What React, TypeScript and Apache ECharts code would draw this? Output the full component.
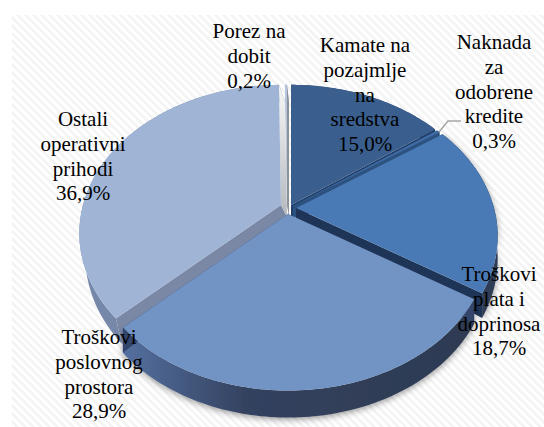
import React, { useEffect, useRef } from "react";
import * as echarts from "echarts";

const categories = [
  "Kamate na\npozajmlje\nna\nsredstva",
  "Naknada\nza\nodobrene\nkredite",
  "Troškovi\nplata i\ndoprinosa",
  "Troškovi\nposlovnog\nprostora",
  "Ostali\noperativni\nprihodi",
  "Porez na\ndobit",
];
const values = [15.0, 0.3, 18.7, 28.9, 36.9, 0.2];

const topColors = ["#3a5f8e", "#3f6ca6", "#4a7ab5", "#7294c5", "#a0b5d6", "#b4c3de"];
const rimColors: any[] = [
  "#2a4468",
  "#2a4468",
  "#2f3c55",
  { type: "linear", x: 0, y: 0, x2: 1, y2: 0, colorStops: [{ offset: 0, color: "#5570a0" }, { offset: 0.35, color: "#33425f" }, { offset: 1, color: "#2d3a52" }] },
  "#7688a9",
  "#c5c9cf",
];
const startWall = ["#22406a", "#2c5280", "#1f3557", "#33456a", "#7a87a5", "#c5c9cf"];
const endWall: any[] = [
  "#22406a",
  "#2c5280",
  "#1f3557",
  "#33456a",
  { type: "linear", x: 0, y: 0, x2: 0, y2: 1, colorStops: [{ offset: 0, color: "#f4f4f4" }, { offset: 0.15, color: "#eeeeee" }, { offset: 1, color: "#b4b8bd" }] },
  "#8d9198",
];
const apex = [[291, 205], [293, 206], [296, 208], [288, 214], [281, 205], [287, 205]];
const bottomShift = [0, 0, 0, 0, 6, 2];
const drawOrder = [0, 1, 5, 4, 2, 3];
const labelPos = [[365, 33], [494, 30], [499, 262], [99, 325], [83, 107], [249, 19]];
const total = values.reduce((a, b) => a + b, 0);

const K = 0.19, A = 143, B = 198;
function rim(theta: number) {
  const u = Math.sin(theta), v = Math.cos(theta), w = 1 + K * v;
  return { x: (B * u) / w, y: (-A * v) / w, d: 22 - 5 * v };
}
function renderSlice(params: any, api: any) {
  const i = params.dataIndex;
  const val = api.value(0);
  let before = 0;
  for (let j = 0; j < i; j++) before += values[j];
  const t0 = (before / total) * Math.PI * 2;
  const t1 = ((before + val) / total) * Math.PI * 2;
  const [ax, ay] = apex[i];
  const sh = bottomShift[i];
  const z = drawOrder.indexOf(i) * 10;
  const topPts: number[][] = [];
  const botPts: number[][] = [];
  const n = Math.max(2, Math.ceil((t1 - t0) / 0.02));
  for (let s = 0; s <= n; s++) {
    const p = rim(t0 + ((t1 - t0) * s) / n);
    topPts.push([ax + p.x, ay + p.y]);
    botPts.push([ax + p.x + sh, ay + p.y + p.d]);
  }
  const aBot = [ax + sh, ay + 12];
  const shadow = i === 2 || i === 3 ? { shadowBlur: 6, shadowColor: "rgba(0,0,0,0.4)", shadowOffsetY: 2 } : {};
  return {
    type: "group",
    children: [
      { type: "polygon", z2: z, shape: { points: [...topPts, ...botPts.slice().reverse()] }, style: { fill: rimColors[i], ...shadow } },
      { type: "polygon", z2: z + 1, shape: { points: [[ax, ay], topPts[0], botPts[0], aBot] }, style: { fill: startWall[i] } },
      { type: "polygon", z2: z + 1, shape: { points: [[ax, ay], topPts[n], botPts[n], aBot] }, style: { fill: endWall[i] } },
      { type: "polygon", z2: z + 2, shape: { points: [[ax, ay], ...topPts] }, style: { fill: topColors[i] } },
    ],
  };
}

export default function App() {
  const ref = useRef<HTMLDivElement>(null);
  useEffect(() => {
    const chart = echarts.init(ref.current!, null, { renderer: "svg" });
    const labels = categories.map((c, i) => ({
      type: "text",
      x: labelPos[i][0],
      y: labelPos[i][1],
      z: 100,
      style: {
        text: `${c}\n${values[i].toFixed(1).replace(".", ",")}%`,
        fontFamily: "Liberation Serif",
        fontSize: 21,
        lineHeight: 24.7,
        fill: "#000",
        align: "center",
        verticalAlign: "top",
      },
    }));
    chart.setOption({
      animation: false,
      backgroundColor: "transparent",
      series: [{ type: "custom", coordinateSystem: "none", renderItem: renderSlice, data: values.map((v) => [v]), silent: true }],
      graphic: [
        ...labels,
        { type: "polyline", z: 99, shape: { points: [[439, 132], [448, 121], [461, 121]] }, style: { stroke: "#a6a6a6", lineWidth: 1.5, fill: "none" } },
      ],
    });
    return () => chart.dispose();
  }, []);
  return (
    <div style={{ position: "fixed", left: 0, top: 0, width: 544, height: 427, background: "#fff" }}>
      <div
        style={{
          position: "absolute", left: 12, top: 15, right: 0, bottom: 0,
          background: "repeating-linear-gradient(45deg, #ffffff 0px, #ffffff 2.8px, #f4f4f4 2.8px, #f4f4f4 5.6px)",
        }}
      />
      <div ref={ref} style={{ position: "absolute", left: 0, top: 0, width: 544, height: 427 }} />
    </div>
  );
}
